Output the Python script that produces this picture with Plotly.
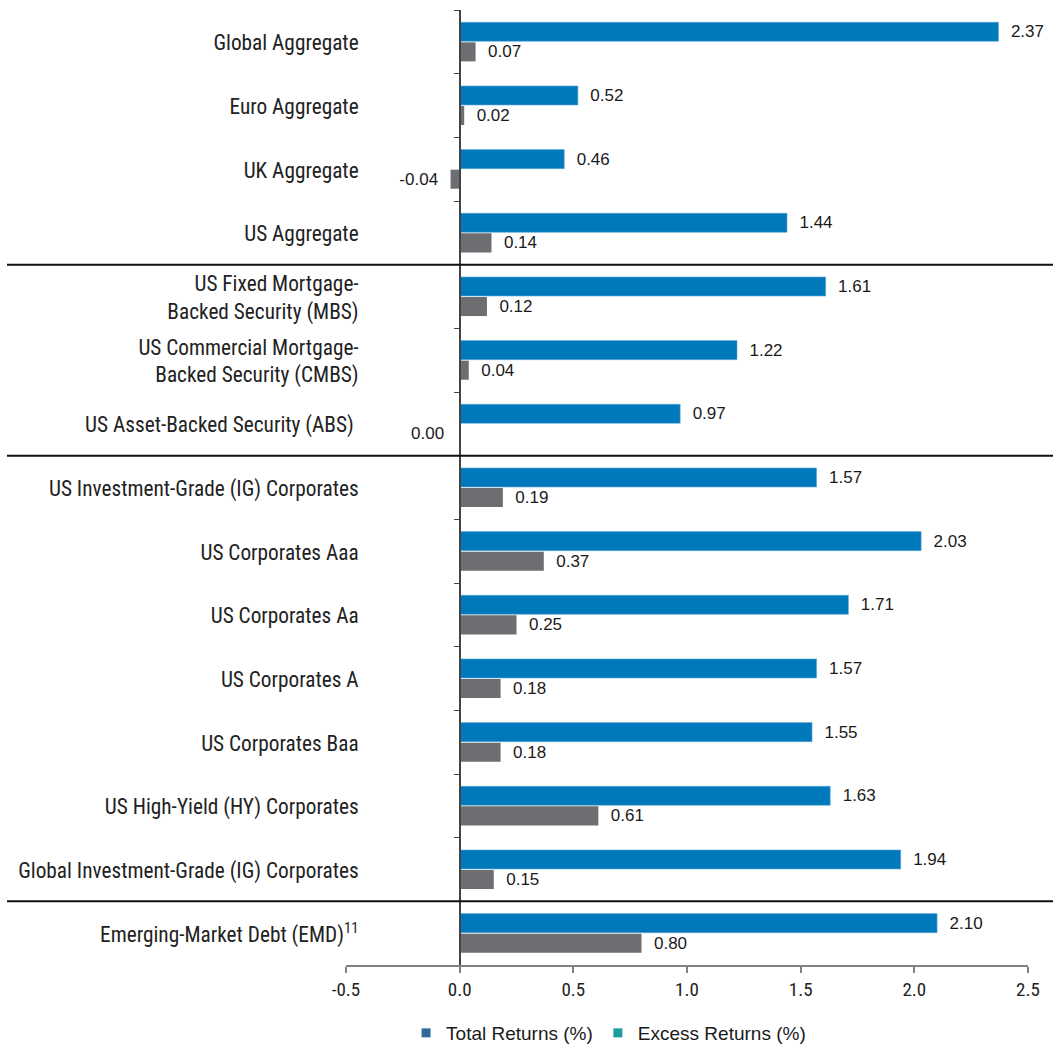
import plotly.graph_objects as go

categories = [
    "Global Aggregate",
    "Euro Aggregate",
    "UK Aggregate",
    "US Aggregate",
    "US Fixed Mortgage-<br>Backed Security (MBS)",
    "US Commercial Mortgage-<br>Backed Security (CMBS)",
    "US Asset-Backed Security (ABS) ",
    "US Investment-Grade (IG) Corporates",
    "US Corporates Aaa",
    "US Corporates Aa",
    "US Corporates A",
    "US Corporates Baa",
    "US High-Yield (HY) Corporates",
    "Global Investment-Grade (IG) Corporates",
    "Emerging-Market Debt (EMD)<sup>11</sup>",
]
total_returns = [2.37, 0.52, 0.46, 1.44, 1.61, 1.22, 0.97, 1.57, 2.03, 1.71, 1.57, 1.55, 1.63, 1.94, 2.10]
excess_returns = [0.07, 0.02, -0.04, 0.14, 0.12, 0.04, 0.00, 0.19, 0.37, 0.25, 0.18, 0.18, 0.61, 0.15, 0.80]
separator_after = [3, 6, 13]  # index of last category in each section
x_ticks = [-0.5, 0.0, 0.5, 1.0, 1.5, 2.0, 2.5]

BLUE = "#0079BC"
GREY = "#6D6E71"
LEG_BLUE = "#2F6A9C"
LEG_TEAL = "#1E9C9C"
NARROW = "Roboto Condensed, Liberation Sans Narrow, DejaVu Sans Condensed, sans-serif"
ARIAL = "Liberation Sans, Arial, sans-serif"
NB = "\u00a0"

W, H = 1053, 1046
ML, MR, MT, MB = 346, 25, 10, 81
xmin, xmax = -0.5, 2.5
pw = W - ML - MR
zero_pos = (0 - xmin) / (xmax - xmin)


def fmt(v):
    s = f"{v:.2f}"
    if v == 0:
        return ""
    return s + NB * 2 if v < 0 else NB * 2 + s


label_font = dict(family=ARIAL, size=17, color="#1a1a1a")

fig = go.Figure()
fig.add_trace(go.Bar(
    y=categories, x=total_returns, orientation="h", name="Total Returns (%)",
    marker=dict(color=BLUE, line=dict(color="#5FA8D8", width=0.6)),
    text=[fmt(v) for v in total_returns], textposition="outside",
    textfont=label_font, outsidetextfont=label_font,
    constraintext="none", textangle=0, cliponaxis=False,
    showlegend=False,
))
fig.add_trace(go.Bar(
    y=categories, x=excess_returns, orientation="h", name="Excess Returns (%)",
    marker=dict(color=GREY, line=dict(width=0)),
    text=[fmt(v) for v in excess_returns], textposition="outside",
    textfont=label_font, outsidetextfont=label_font,
    constraintext="none", textangle=0, cliponaxis=False,
    showlegend=False,
))
# zero-valued bars: label drawn to the left of the axis, at the bar's own row slot
for series, yshift in [(total_returns, 10), (excess_returns, -10)]:
    for cat, v in zip(categories, series):
        if v == 0:
            fig.add_annotation(x=v, y=cat, xref="x", yref="y", text=f"{v:.2f}",
                               showarrow=False, xanchor="right", xshift=-14, yshift=yshift,
                               font=label_font)

# legend swatches
for nm, col in [("Total Returns (%)", LEG_BLUE), ("Excess Returns (%)", LEG_TEAL)]:
    fig.add_trace(go.Scatter(x=[None], y=[None], mode="markers", name=nm,
                             marker=dict(symbol="square", size=9, color=col)))

for i in separator_after:
    fig.add_shape(type="line", xref="paper", yref="y",
                  x0=(7 - ML) / pw, x1=(W - ML) / pw, y0=i + 0.5, y1=i + 0.5,
                  line=dict(color="#111111", width=2))

fig.update_layout(
    width=W, height=H,
    margin=dict(l=ML, r=MR, t=MT, b=MB, autoexpand=False),
    paper_bgcolor="white", plot_bgcolor="white",
    barmode="group", bargap=0.37, bargroupgap=0.05,
    legend=dict(orientation="h", x=0.385, xanchor="center", y=-0.0712, yanchor="middle",
                font=dict(family=ARIAL, size=19, color="#1a1a1a"),
                itemwidth=30, traceorder="normal", tracegroupgap=0),
    xaxis=dict(range=[xmin, xmax], tickvals=x_ticks, ticktext=[f"{t:.1f}" for t in x_ticks],
               showgrid=False, zeroline=False, showline=True, linecolor="#808080", linewidth=2,
               ticks="outside", ticklen=6, tickcolor="#808080", tickwidth=1.5,
               automargin=False,
               tickfont=dict(family=NARROW, size=19, color="#222222")),
    yaxis=dict(autorange=False, range=[len(categories) - 0.5, -0.5],
               type="category", tickson="boundaries",
               anchor="free", position=zero_pos, automargin=False,
               showgrid=False, zeroline=False, showline=True, linecolor="#444444", linewidth=1.5,
               ticks="outside", ticklen=5, tickcolor="#444444", tickwidth=1.2,
               ticklabelstandoff=96, ticklabelshift=-1,
               tickfont=dict(family=NARROW, size=21.3, color="#222222")),
)

fig.write_html("out.html")
